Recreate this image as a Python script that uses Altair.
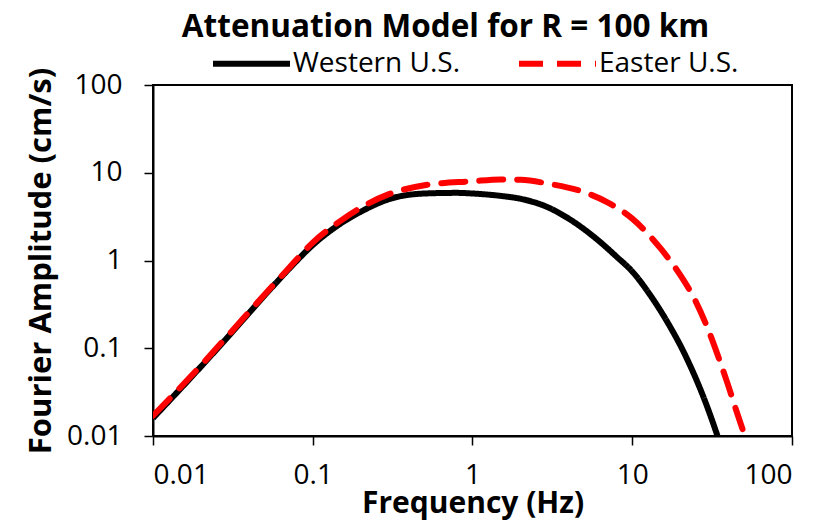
import altair as alt
import pandas as pd

# ---- data ----
west_label = "Western U.S."
east_label = "Easter U.S."

freq_west = [0.01, 0.02, 0.03, 0.05, 0.07, 0.1, 0.15, 0.2, 0.3, 0.5, 0.8, 1, 1.5, 2, 3, 4, 6, 8, 10, 13, 16.3, 21.7, 28.9, 34.3, 36]
amp_west = [0.016, 0.062, 0.14, 0.40, 0.78, 1.5, 2.65, 3.6, 5.0, 5.8, 5.9, 5.8, 5.45, 5.05, 4.0, 3.0, 1.75, 1.1, 0.75, 0.40, 0.21, 0.08, 0.0236, 0.0098, 0.0075]

freq_east = [0.01, 0.02, 0.03, 0.05, 0.07, 0.1, 0.15, 0.2, 0.3, 0.5, 1, 1.5, 2, 3, 5, 7, 10, 15, 20, 25, 30, 35, 40, 45, 49]
amp_east = [0.017, 0.064, 0.145, 0.41, 0.80, 1.6, 2.85, 4.0, 5.7, 7.2, 8.0, 8.4, 8.3, 7.5, 6.0, 4.6, 3.0, 1.38, 0.68, 0.34, 0.16, 0.075, 0.037, 0.019, 0.012]

x_ticks = [0.01, 0.1, 1, 10, 100]
y_ticks = [0.01, 0.1, 1, 10, 100]

df_w = pd.DataFrame({"freq": freq_west, "amp": amp_west, "series": west_label})
df_e = pd.DataFrame({"freq": freq_east, "amp": amp_east, "series": east_label})

FONT = "Open Sans"

x_enc = alt.X(
    "freq:Q",
    scale=alt.Scale(type="log", domain=[0.01, 100], nice=False),
    axis=alt.Axis(
        values=x_ticks, format="~g", title="Frequency (Hz)",
        labelBaseline="alphabetic", labelPadding=38,
        titleY=76, titleBaseline="alphabetic", titleFontSize=30,
    ),
)
y_enc = alt.Y(
    "amp:Q",
    scale=alt.Scale(type="log", domain=[0.01, 100], nice=False),
    axis=alt.Axis(
        values=y_ticks, format="~g", title="Fourier Amplitude (cm/s)",
        labelPadding=22, titleX=-103, titleY=175.5, titleBaseline="alphabetic",
        titleAngle=-90,
    ),
)

legend = alt.Legend(
    orient="none", legendX=57, legendY=-63, direction="horizontal", title=None,
    symbolType="stroke", symbolSize=5929, symbolStrokeWidth=6,
    labelFont=FONT, labelFontSize=28, labelColor="black", labelOffset=0,
    columnPadding=47, labelLimit=400,
)

color_enc = alt.Color(
    "series:N",
    scale=alt.Scale(domain=[west_label, east_label], range=["#000000", "#ff0000"]),
    legend=legend,
)
dash_enc = alt.StrokeDash(
    "series:N",
    scale=alt.Scale(domain=[west_label, east_label], range=[[1, 0], [24, 14]]),
    legend=legend,
)

west = alt.Chart(df_w).mark_line(
    strokeWidth=6, clip=True, strokeCap="butt", interpolate="monotone"
).encode(x=x_enc, y=y_enc, color=color_enc, strokeDash=dash_enc)
east = alt.Chart(df_e).mark_line(
    strokeWidth=6, clip=True, strokeCap="round", interpolate="monotone"
).encode(x=x_enc, y=y_enc, color=color_enc, strokeDash=dash_enc)

chart = (
    alt.layer(west, east)
    .properties(
        width=639, height=351,
        autosize=alt.AutoSizeParams(type="none"),
        padding={"left": 145, "top": 77, "right": 32, "bottom": 84},
        title=alt.TitleParams(
            "Attenuation Model for R = 100 km", font=FONT, fontSize=31.5,
            fontWeight="bold", color="black", anchor="middle", dx=-27,
            offset=-11, dy=35, baseline="alphabetic", frame="group",
        ),
    )
    .configure_view(stroke="black", strokeWidth=2)
    .configure_axis(
        grid=False, domainColor="black", domainWidth=2, tickColor="black",
        tickWidth=1.5, tickSize=9, labelFont=FONT, labelFontSize=28,
        labelColor="black", titleFont=FONT, titleFontSize=31,
        titleFontWeight="bold", titleColor="black",
    )
)

chart.save("out.html", embed_options={"renderer": "svg", "actions": False})
